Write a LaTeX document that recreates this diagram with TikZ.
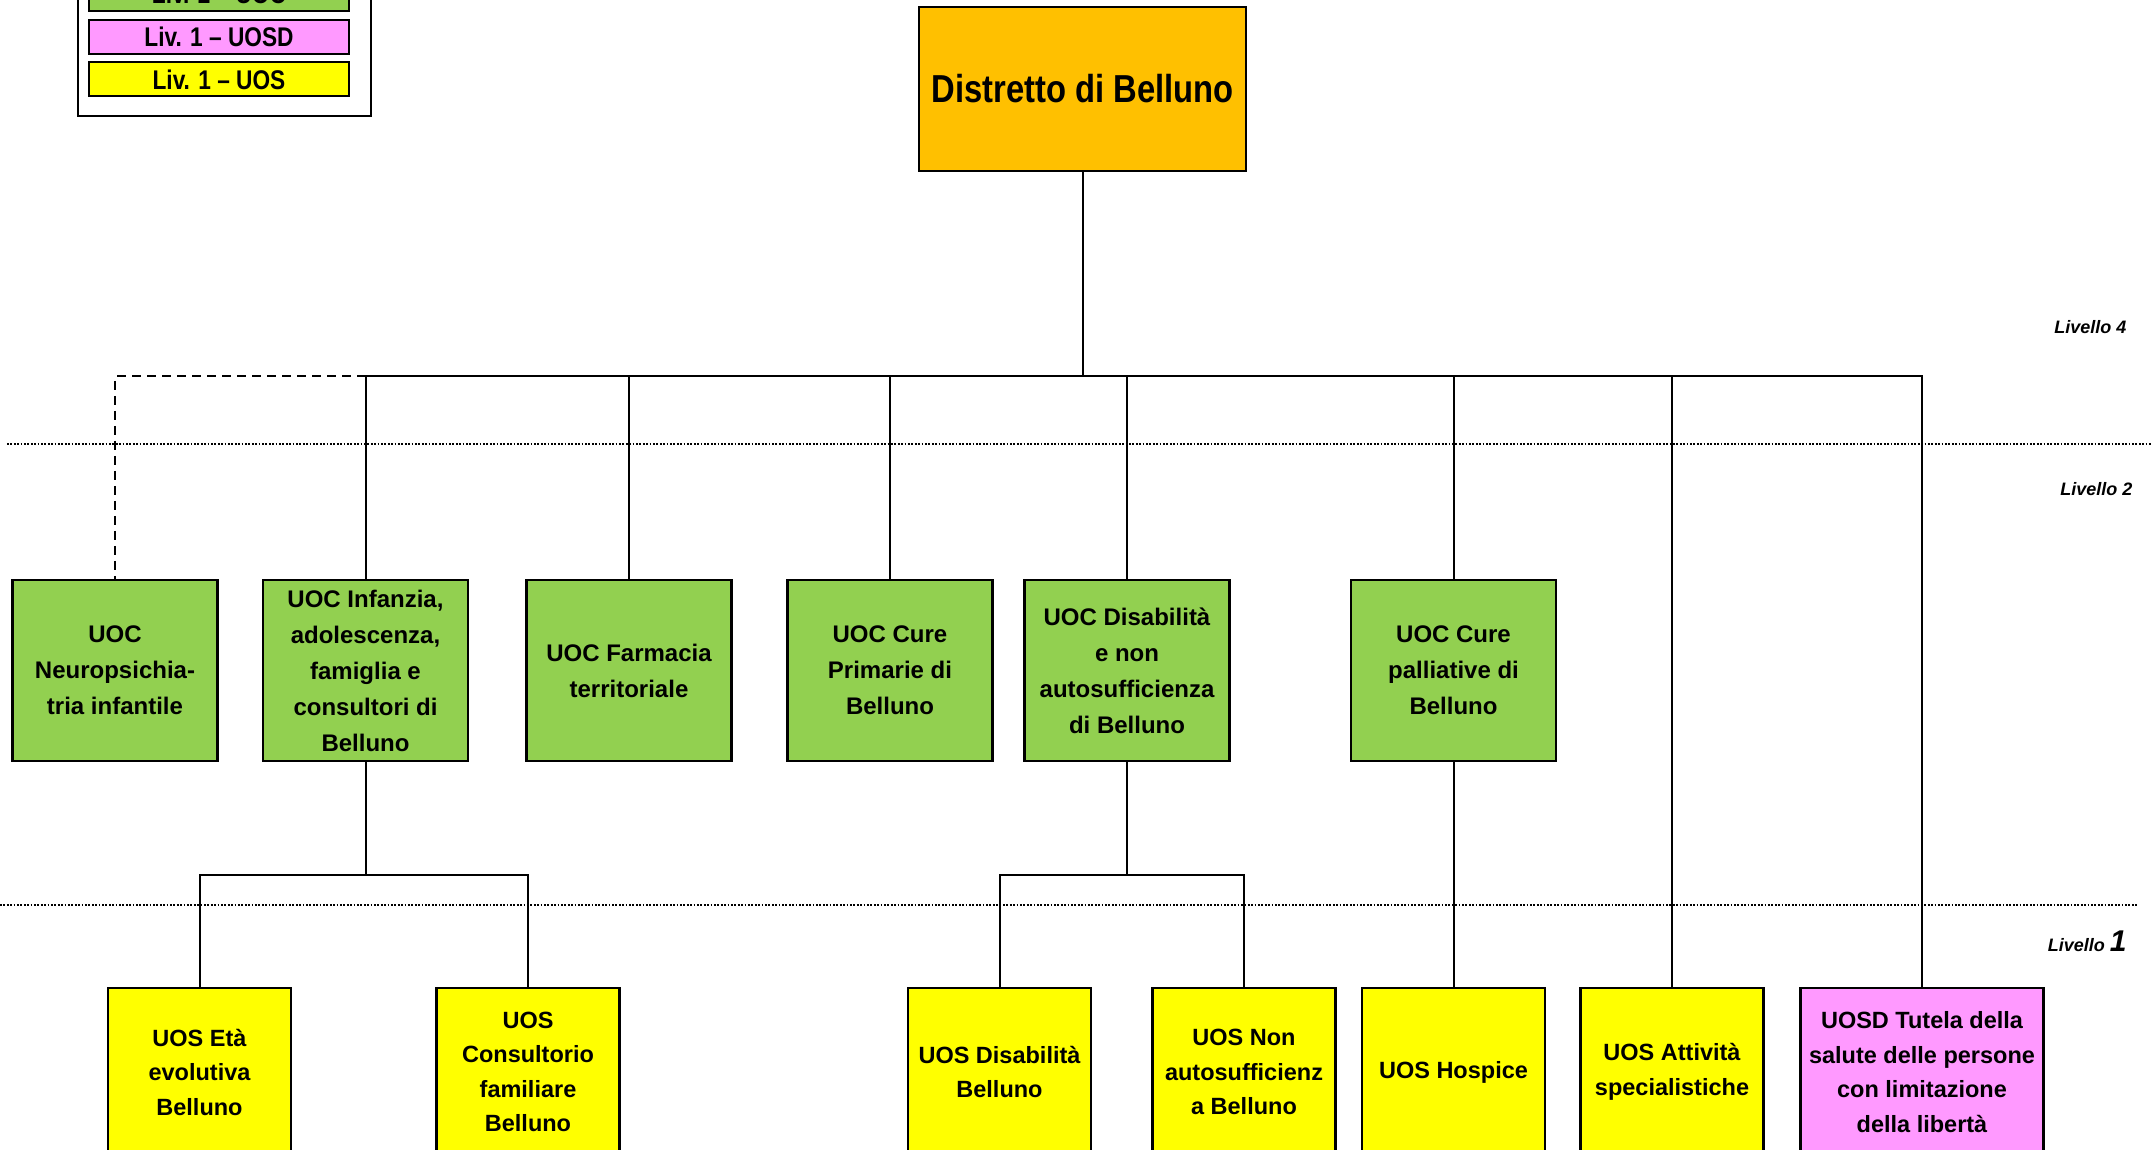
\documentclass[tikz,border=0pt]{standalone}
\usepackage{fontspec}
\setmainfont{Liberation Sans}
\newfontfamily\narrowfont[FakeStretch=0.84]{Liberation Sans}
\usepackage{xcolor}
\usepackage{tikz}
\usetikzlibrary{calc,positioning}
\definecolor{distfill}{HTML}{FFC000}
\definecolor{uocfill}{HTML}{92D050}
\definecolor{uosdfill}{HTML}{FF99FF}
\definecolor{uosfill}{HTML}{FFFF00}
\tikzset{
  box/.style={draw=black, line width=2.5pt, inner sep=0pt, align=center},
  dist/.style={box, fill=distfill, minimum width=327pt, minimum height=164pt, font=\narrowfont\bfseries\fontsize{39}{47}\selectfont},
  uoc/.style={box, fill=uocfill, minimum width=205pt, minimum height=181pt, font=\bfseries\fontsize{24}{36}\selectfont},
  uos/.style={box, fill=uosfill, minimum width=183pt, minimum height=168pt, font=\bfseries\fontsize{23.5}{34.5}\selectfont},
  uosd/.style={uos, fill=uosdfill, minimum width=243pt},
  leg/.style={box, line width=2pt, minimum width=260pt, minimum height=34pt, font=\narrowfont\bfseries\fontsize{27}{30}\selectfont},
  conn/.style={draw=black, line width=2pt},
  sep/.style={draw=black, line width=2pt, dash pattern=on 1.7pt off 1.7pt},
  lvl/.style={anchor=base east, font=\bfseries\itshape\fontsize{18}{20}\selectfont},
}

\begin{document}
\begin{tikzpicture}[x=1pt,y=-1pt]
\useasboundingbox (0,0) rectangle (2152,1150);
% legenda
\draw[line width=2pt] (78,-60) rectangle (371,116);
\node[leg, fill=uocfill] (legA) at (219,-6) {Liv. 2 – UOC};
\node[leg, fill=uosdfill] (legB) at (219,37) {Liv. 1 – UOSD};
\node[leg, fill=uosfill] (legC) at (219,79.5) {Liv. 1 – UOS};
% livelli
\draw[sep] (7,444) -- (2152,444);
\draw[sep] (0,905) -- (2137,905);
\node[lvl] (liv4) at (2130,333) {Livello 4};
\node[lvl] (liv2) at (2136,495) {Livello 2};
\node[lvl] (liv1) at (2130,951) {Livello {\fontsize{30}{32}\selectfont 1}};
% distretto
\node[dist] (distretto) at (1082.5,89) {Distretto di Belluno};
% livello 2
\node[uoc] (neuro) at (115,670.5) {UOC\\Neuropsichia-\\tria infantile};
\node[uoc] (infanzia) at (365.5,670.5) {UOC Infanzia,\\adolescenza,\\famiglia e\\consultori di\\Belluno};
\node[uoc] (farmacia) at (629,670.5) {UOC Farmacia\\territoriale};
\node[uoc] (curepri) at (890,670.5) {UOC Cure\\Primarie di\\Belluno};
\node[uoc] (disab) at (1127,670.5) {UOC Disabilità\\e non\\autosufficienza\\di Belluno};
\node[uoc] (pall) at (1453.5,670.5) {UOC Cure\\palliative di\\Belluno};
% livello 1
\node[uos] (eta) at (199.5,1072) {UOS Età\\evolutiva\\Belluno};
\node[uos] (consult) at (528,1072) {UOS\\Consultorio\\familiare\\Belluno};
\node[uos] (ydisab) at (999.5,1072) {UOS Disabilità\\Belluno};
\node[uos] (nonauto) at (1244,1072) {UOS Non\\autosufficienz\\a Belluno};
\node[uos] (hospice) at (1453.5,1072) {UOS Hospice};
\node[uos] (attiv) at (1672,1072) {UOS Attività\\specialistiche};
\node[uosd] (tutela) at (1922,1072) {UOSD Tutela della\\salute delle persone\\con limitazione\\della libertà};
% collegamenti
\path (distretto.south) ++(0,204) coordinate (bus);
\draw[conn] (distretto.south) -- (bus);
\foreach \n in {infanzia,farmacia,curepri,disab,pall,attiv,tutela}
  \draw[conn] (bus) -| (\n.north);
\draw[conn, dash pattern=on 9pt off 6pt] (bus -| infanzia.north) -| (neuro.north);
\draw[conn] (infanzia.south) -- ++(0,113) coordinate (subA);
\draw[conn] (subA) -| (eta.north);
\draw[conn] (subA) -| (consult.north);
\draw[conn] (disab.south) -- ++(0,113) coordinate (subB);
\draw[conn] (subB) -| (ydisab.north);
\draw[conn] (subB) -| (nonauto.north);
\draw[conn] (pall) -- (hospice);
\end{tikzpicture}
\end{document}
